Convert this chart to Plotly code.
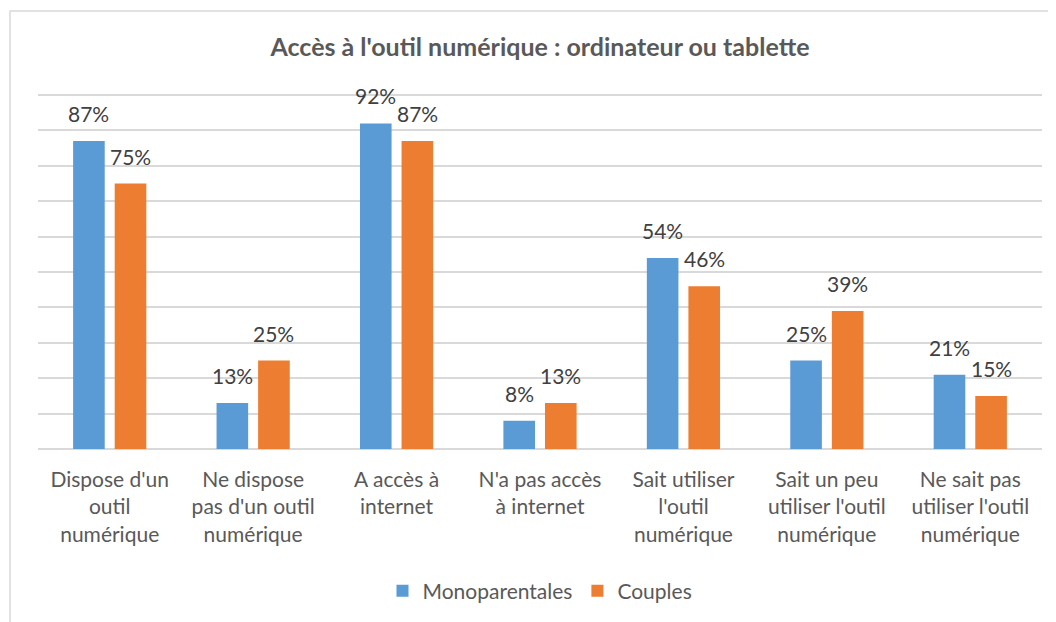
import plotly.graph_objects as go

categories = [
    "Dispose d'un<br>outil<br>numérique",
    "Ne dispose<br>pas d'un outil<br>numérique",
    "A accès à<br>internet",
    "N'a pas accès<br>à internet",
    "Sait utiliser<br>l'outil<br>numérique",
    "Sait un peu<br>utiliser l'outil<br>numérique",
    "Ne sait pas<br>utiliser l'outil<br>numérique",
]
monoparentales = [0.87, 0.13, 0.92, 0.08, 0.54, 0.25, 0.21]
couples = [0.75, 0.25, 0.87, 0.13, 0.46, 0.39, 0.15]
series_names = ["Monoparentales", "Couples"]
colors = ["#5B9BD5", "#ED7D31"]
title = "Accès à l'outil numérique : ordinateur ou tablette"

FONT = "Lato"
FS = 21

# The page body adds an 8px offset; the figure is sized to compensate.
W, H = 1048, 614
YMAX = 1.02
L, R, B = 30, 14, 173
T = int(round(87 - 354 * (YMAX - 1)))
PH = H - T - B
PW = W - L - R
BASE = T + PH  # baseline pixel within the figure

fig = go.Figure()
for name, vals, col in zip(series_names, [monoparentales, couples], colors):
    fig.add_trace(go.Bar(
        x=categories, y=vals, name=name,
        marker=dict(color=col, line=dict(width=0)),
    ))

annotations = []
for vals, xs in [(monoparentales, -20.75), (couples, 20.75)]:
    for c, v in zip(categories, vals):
        annotations.append(dict(
            x=c, y=v, xref="x", yref="y", text=f"{round(v*100)}%",
            showarrow=False, xshift=xs, yanchor="bottom", yshift=13,
            font=dict(family=FONT, size=FS, color="#404040"),
        ))

fig.update_layout(
    width=W, height=H,
    paper_bgcolor="white", plot_bgcolor="white",
    margin=dict(l=L, r=R, t=T, b=B, autoexpand=False),
    barmode="group", bargap=0.42, bargroupgap=0.24,
    title=dict(text=f"<b>{title}</b>", x=0.5, xanchor="center",
               xref="paper",
               y=1 - 39 / H, yanchor="middle",
               font=dict(family=FONT, size=25, color="#595959")),
    font=dict(family=FONT, size=FS, color="#595959"),
    showlegend=True,
    legend=dict(orientation="h", x=0.5, xanchor="center",
                y=-(583 - BASE) / PH, yanchor="middle",
                font=dict(family=FONT, size=FS, color="#595959"),
                itemwidth=30, traceorder="normal"),
    annotations=annotations,
    shapes=[dict(type="rect", xref="paper", yref="paper",
                 x0=(2 - L) / PW, x1=1.2, y0=-2, y1=(BASE - 3) / PH,
                 line=dict(color="#D9D9D9", width=1.5), layer="below")],
)
fig.update_yaxes(range=[0, YMAX], dtick=0.1, tick0=0, showticklabels=False,
                 showgrid=True, gridcolor="#D9D9D9", gridwidth=1.5,
                 zeroline=True, zerolinecolor="#D9D9D9", zerolinewidth=1.5,
                 fixedrange=True)
fig.update_xaxes(showline=False, tickfont=dict(family=FONT, size=FS, color="#595959"),
                 ticks="", ticklabelstandoff=16)

fig.write_html("out.html")
